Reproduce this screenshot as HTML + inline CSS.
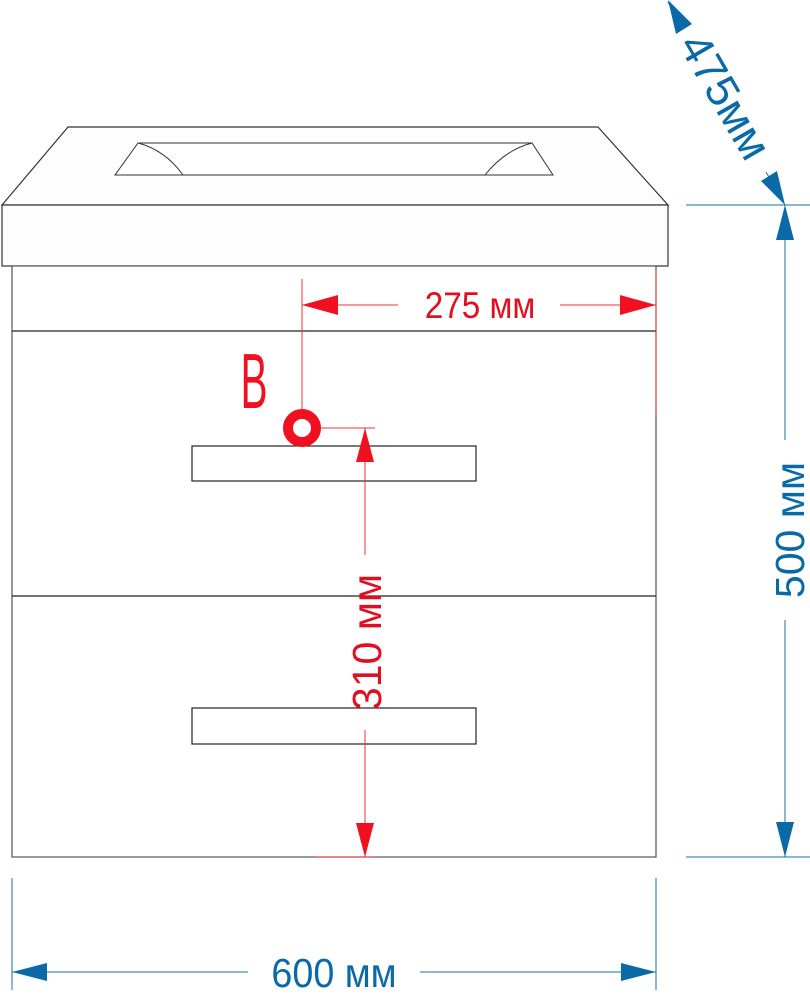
<!DOCTYPE html>
<html><head><meta charset="utf-8"><style>
html,body{margin:0;padding:0;background:#fff;}
svg{display:block;}
text{font-family:"Liberation Sans",sans-serif;}
</style></head><body>
<svg width="810" height="1000" viewBox="0 0 810 1000" xmlns="http://www.w3.org/2000/svg">
<rect width="810" height="1000" fill="#fff"/>
<!-- countertop -->
<polygon points="68,127 598,127 668,205 2,205" fill="#fdfdfd" stroke="#333" stroke-width="1.2"/>
<polygon points="138,143 532,143 553,175 115,175" fill="#fff" stroke="#333" stroke-width="1"/>
<path d="M138,143 Q165,150 183,175" fill="none" stroke="#333" stroke-width="1"/>
<path d="M532,143 Q505,150 485,175" fill="none" stroke="#333" stroke-width="1"/>
<rect x="2" y="205" width="666" height="61" fill="#fdfdfd" stroke="#333" stroke-width="1.2"/>
<!-- cabinet -->
<rect x="12" y="266" width="644" height="591" fill="#fff" stroke="#555" stroke-width="1.2"/>
<line x1="12" y1="331" x2="656" y2="331" stroke="#222" stroke-width="1.2"/>
<line x1="12" y1="596" x2="656" y2="596" stroke="#222" stroke-width="1.2"/>
<rect x="192" y="446" width="284" height="35" fill="none" stroke="#222" stroke-width="1.2"/>
<rect x="192" y="708" width="284" height="36" fill="none" stroke="#222" stroke-width="1.2"/>
<!-- red dims -->
<g stroke="#f03030" stroke-width="1" fill="none">
<line x1="302" y1="279" x2="302" y2="415"/>
<line x1="656" y1="270" x2="656" y2="415"/>
<line x1="302" y1="305" x2="398" y2="305"/>
<line x1="560" y1="305" x2="656" y2="305"/>
<line x1="315" y1="428" x2="375" y2="428"/>
<line x1="365" y1="428" x2="365" y2="555"/>
<line x1="365" y1="730" x2="365" y2="857"/>
<line x1="315" y1="857" x2="375" y2="857"/>
</g>
<g fill="#f01020">
<polygon points="302,305 338,295 338,315"/>
<polygon points="656,305 620,295 620,315"/>
<polygon points="365,428 356,462 374,462"/>
<polygon points="365,857 356,823 374,823"/>
</g>
<circle cx="302" cy="428" r="14" fill="none" stroke="#f01020" stroke-width="10"/>
<text x="254" y="408" text-anchor="middle" font-size="78" fill="#f01020" transform="translate(254,380) scale(0.52,1) translate(-254,-380)">B</text>
<text x="480" y="318" text-anchor="middle" font-size="37" fill="#e01020" transform="translate(480,305) scale(0.9,1) translate(-480,-305)">275 мм</text>
<text transform="translate(381,642) rotate(-90)" text-anchor="middle" font-size="41" fill="#e01020">310 мм</text>
<!-- blue dims -->
<g stroke="#1a6fa0" stroke-width="1" fill="none">
<line x1="686" y1="205" x2="810" y2="205"/>
<line x1="686" y1="857" x2="810" y2="857"/>
<line x1="785" y1="205" x2="785" y2="440"/>
<line x1="785" y1="620" x2="785" y2="857"/>
<line x1="12" y1="878" x2="12" y2="990"/>
<line x1="656" y1="878" x2="656" y2="990"/>
<line x1="12" y1="972" x2="248" y2="972"/>
<line x1="420" y1="972" x2="656" y2="972"/>
<line x1="668" y1="2" x2="678" y2="20"/>
<line x1="766" y1="172" x2="785" y2="205"/>
</g>
<g fill="#0a6aa8">
<polygon points="785,205 776,240 794,240"/>
<polygon points="785,857 776,822 794,822"/>
<polygon points="12,972 47,963 47,981"/>
<polygon points="656,972 621,963 621,981"/>
<polygon points="668,0 692,24 676,34"/>
<polygon points="785,205 761,181 777,171"/>
</g>
<text x="334" y="987" text-anchor="middle" font-size="41" fill="#0a6aa8" transform="translate(334,972) scale(0.92,1) translate(-334,-972)">600 мм</text>
<text transform="translate(804,530) rotate(-90)" text-anchor="middle" font-size="41" fill="#0a6aa8">500 мм</text>
<text transform="translate(712,104) rotate(60)" text-anchor="middle" font-size="45" fill="#0a6aa8">475мм</text>
</svg>
</body></html>
